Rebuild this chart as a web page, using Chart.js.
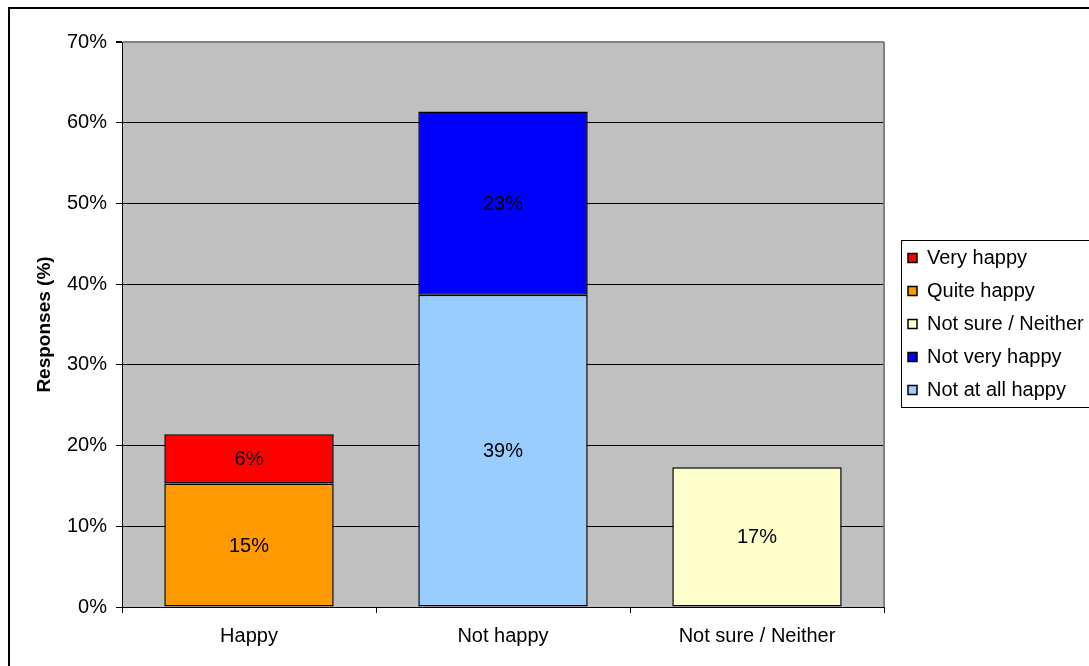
<!DOCTYPE html>
<html>
<head>
<meta charset="utf-8">
<title>Responses</title>
<script src="https://cdn.jsdelivr.net/npm/chart.js@4.4.1/dist/chart.umd.min.js"></script>
<style>
  html, body { margin: 0; padding: 0; background: #ffffff; }
  #wrap { width: 1089px; height: 666px; position: relative; }
</style>
</head>
<body>
<div id="wrap"><canvas id="chart" width="1089" height="666"></canvas></div>
<script>
// Categories and series (percent of responses)
const categories = ['Happy', 'Not happy', 'Not sure / Neither'];
const notAtAllHappy = [null, 38.7, null];
const notVeryHappy = [null, 22.7, null];
const notSureNeither = [null, null, 17.3];
const quiteHappy = [15.3, null, null];
const veryHappy = [6.1, null, null];
const yTicks = [0, 10, 20, 30, 40, 50, 60, 70];

const FONT = '"Liberation Sans", Arial, Helvetica, sans-serif';
const FS = 20;

// Gray plot background, plot frame and outer frame
const framePlugin = {
  id: 'frame',
  beforeDraw(chart) {
    const { ctx, chartArea: a } = chart;
    ctx.save();
    ctx.fillStyle = '#ffffff';
    ctx.fillRect(0, 0, chart.width, chart.height);
    ctx.fillStyle = '#c0c0c0';
    ctx.fillRect(a.left, a.top, a.right - a.left, a.bottom - a.top);
    ctx.restore();
  },
  afterDraw(chart) {
    const { ctx, chartArea: a } = chart;
    ctx.save();
    // right edge of plot
    ctx.strokeStyle = '#808080';
    ctx.lineWidth = 2;
    ctx.beginPath();
    ctx.moveTo(a.right, a.top);
    ctx.lineTo(a.right, a.bottom);
    ctx.stroke();
    // outer frame
    ctx.strokeStyle = '#000000';
    ctx.lineWidth = 2;
    ctx.strokeRect(9, 8, chart.width + 20, chart.height + 20);
    // legend frame
    const hb = chart.legend && chart.legend.legendHitBoxes;
    if (hb && hb.length) {
      const first = hb[0], last = hb[hb.length - 1];
      const x = first.left - 7, y = first.top - 8;
      const b = last.top + last.height + 7;
      ctx.lineWidth = 1;
      ctx.strokeRect(Math.round(x) + 0.5, Math.round(y) + 0.5, chart.width, Math.round(b - y));
    }
    ctx.restore();
  }
};

// Position the legend column beside the plot
const legendPlacePlugin = {
  id: 'legendPlace',
  afterLayout(chart) {
    const lg = chart.legend;
    if (!lg) return;
    lg.left = chart.chartArea.right + 11;
    lg.right = chart.width;
    lg.width = lg.right - lg.left;
    lg.top = 0;
    lg.bottom = 648;
    lg.height = lg.bottom - lg.top;
  }
};

// Percent labels centred in each bar segment
const valueLabelPlugin = {
  id: 'valueLabels',
  afterDatasetsDraw(chart) {
    const { ctx } = chart;
    ctx.save();
    ctx.font = FS + 'px ' + FONT;
    ctx.fillStyle = '#000000';
    ctx.textAlign = 'center';
    ctx.textBaseline = 'middle';
    chart.data.datasets.forEach((ds, i) => {
      const meta = chart.getDatasetMeta(i);
      meta.data.forEach((el, j) => {
        const v = ds.data[j];
        if (v === null || v === undefined) return;
        ctx.fillText(Math.round(v) + '%', el.x, (el.y + el.base) / 2 + 1);
      });
    });
    ctx.restore();
  }
};

Chart.defaults.font.family = FONT;
Chart.defaults.font.size = FS;
Chart.defaults.color = '#000000';

new Chart(document.getElementById('chart'), {
  type: 'bar',
  data: {
    labels: categories,
    datasets: [
      { label: 'Not at all happy', data: notAtAllHappy, backgroundColor: '#99ccff' },
      { label: 'Not very happy', data: notVeryHappy, backgroundColor: '#0000ff' },
      { label: 'Not sure / Neither', data: notSureNeither, backgroundColor: '#ffffcc' },
      { label: 'Quite happy', data: quiteHappy, backgroundColor: '#ff9900' },
      { label: 'Very happy', data: veryHappy, backgroundColor: '#ff0000' }
    ].map(d => Object.assign(d, {
      borderColor: '#000000',
      borderWidth: 1.5,
      borderSkipped: false,
      categoryPercentage: 1,
      barPercentage: 0.667
    }))
  },
  options: {
    responsive: false,
    animation: false,
    layout: { padding: { left: 0, top: 42, right: 55, bottom: 0 } },
    plugins: {
      tooltip: { enabled: false },
      legend: {
        position: 'right',
        reverse: true,
        maxWidth: 150,
        labels: {
          boxWidth: 9,
          boxHeight: 9,
          padding: 13,
          color: '#000000',
          font: { size: FS, family: FONT }
        }
      }
    },
    scales: {
      x: {
        stacked: true,
        offset: true,
        grid: {
          offset: true,
          drawOnChartArea: false,
          drawTicks: true,
          tickLength: 6,
          color: '#000000',
          tickColor: '#000000'
        },
        border: { display: true, color: '#000000', width: 1 },
        ticks: { padding: 11, color: '#000000', font: { size: FS }, maxRotation: 0 },
        afterFit(scale) { scale.height = 59; }
      },
      y: {
        stacked: true,
        min: yTicks[0],
        max: yTicks[yTicks.length - 1],
        afterBuildTicks(scale) { scale.ticks = yTicks.map(v => ({ value: v })); },
        ticks: {
          padding: 9,
          color: '#000000',
          font: { size: FS },
          callback: v => v + '%'
        },
        grid: {
          color: c => (c.tick && c.tick.value === 70 ? '#808080' : '#000000'),
          lineWidth: c => (c.tick && c.tick.value === 70 ? 2 : 1),
          tickColor: '#000000',
          tickLength: 6,
          drawTicks: true
        },
        border: { display: true, color: '#000000', width: 1 },
        title: {
          display: true,
          text: 'Responses (%)',
          color: '#000000',
          font: { size: 19, weight: 'bold', family: FONT },
          padding: { top: 33, bottom: 0 }
        },
        afterFit(scale) { scale.width = 122; }
      }
    }
  },
  plugins: [framePlugin, legendPlacePlugin, valueLabelPlugin]
});
</script>
</body>
</html>
